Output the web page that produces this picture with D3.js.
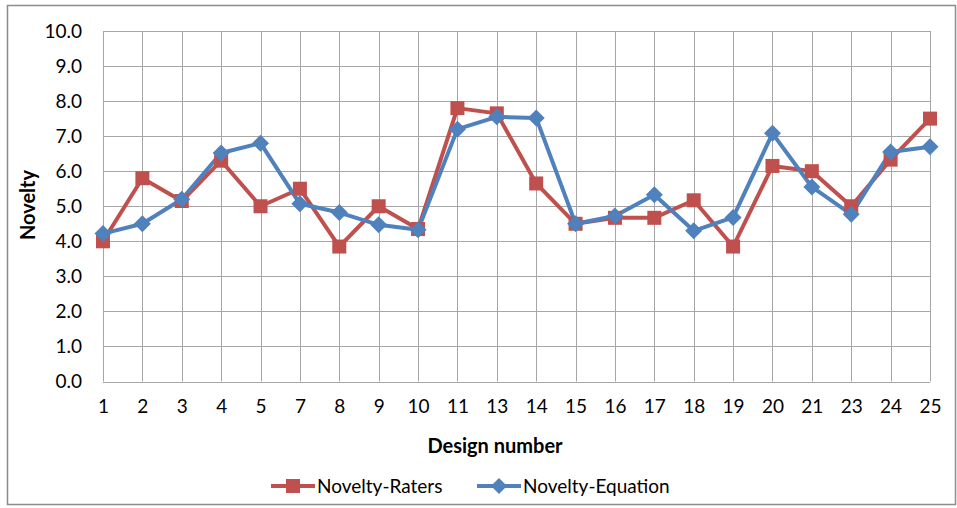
<!DOCTYPE html>
<html>
<head>
<meta charset="utf-8">
<script src="https://cdn.jsdelivr.net/npm/d3@7"></script>
<style>
  body { margin: 0; background: #fff; }
  svg { display: block; font-family: Lato, "Open Sans", sans-serif; }
</style>
</head>
<body>
<svg id="chart" width="957" height="508"></svg>
<script>
// Design numbers along the category axis
const designs = ["1","2","3","4","5","7","8","9","10","11","13","14","15","16","17","18","19","20","21","23","24","25"];
// Novelty scores given by the raters
const noveltyRaters = [4.0,5.8,5.15,6.3,5.0,5.5,3.85,5.0,4.35,7.8,7.65,5.65,4.5,4.67,4.67,5.17,3.85,6.15,6.0,5.0,6.33,7.5];
// Novelty scores computed from the equation
const noveltyEquation = [4.22,4.5,5.2,6.52,6.8,5.07,4.82,4.47,4.33,7.2,7.55,7.52,4.5,4.72,5.33,4.3,4.68,7.08,5.55,4.77,6.55,6.7];
const yTicks = [0,1,2,3,4,5,6,7,8,9,10];
const seriesNames = ["Novelty-Raters", "Novelty-Equation"];

const red = "#C0504D", blue = "#4F81BD", grid = "#A6A6A6";
const fontSize = 19;
const svg = d3.select("#chart");

// chart area border
svg.append("rect").attr("x", 7.5).attr("y", 5.5).attr("width", 948).attr("height", 499)
  .attr("fill", "#fff").attr("stroke", "#8c8c8c").attr("stroke-width", 1.5);

const plotLeft = 103, plotRight = 930, plotTop = 31, plotBottom = 381.5;
const x = d3.scalePoint().domain(designs).range([plotLeft, plotRight]);
const y = d3.scaleLinear().domain([0, 10]).range([plotBottom, plotTop]);

// horizontal gridlines
svg.append("g").selectAll("line").data(yTicks).join("line")
  .attr("x1", plotLeft).attr("x2", plotRight)
  .attr("y1", d => Math.round(y(d)) + 0.5).attr("y2", d => Math.round(y(d)) + 0.5)
  .attr("stroke", grid).attr("stroke-width", 1);
// vertical gridlines
svg.append("g").selectAll("line").data(designs).join("line")
  .attr("x1", d => Math.round(x(d)) + 0.5).attr("x2", d => Math.round(x(d)) + 0.5)
  .attr("y1", plotTop).attr("y2", plotBottom)
  .attr("stroke", grid).attr("stroke-width", 1);

// y axis labels
const yAxis = d3.axisLeft(y).tickValues(yTicks).tickFormat(d3.format(".1f")).tickSize(0).tickPadding(21);
const gy = svg.append("g").attr("transform", `translate(${plotLeft},0)`).call(yAxis);
gy.select(".domain").remove();
gy.selectAll("text").attr("font-size", fontSize).attr("fill", "#000").attr("font-family", "Lato, sans-serif");

// x axis labels
const xAxis = d3.axisBottom(x).tickSize(0).tickPadding(18);
const gx = svg.append("g").attr("transform", `translate(0,${plotBottom})`).call(xAxis);
gx.select(".domain").remove();
gx.selectAll("text").attr("font-size", fontSize).attr("fill", "#000").attr("font-family", "Lato, sans-serif");

// axis titles
svg.append("text").attr("x", 495).attr("y", 453).attr("text-anchor", "middle")
  .attr("font-size", 20).attr("font-weight", "bold").text("Design number");
svg.append("text").attr("transform", "translate(35,205) rotate(-90)").attr("text-anchor", "middle")
  .attr("font-size", 20).attr("font-weight", "bold").text("Novelty");

const line = d3.line().x((d, i) => x(designs[i])).y(d => y(d));

// Novelty-Raters series
svg.append("path").datum(noveltyRaters).attr("d", line)
  .attr("fill", "none").attr("stroke", red).attr("stroke-width", 4).attr("stroke-linejoin", "round");
// Novelty-Equation series
svg.append("path").datum(noveltyEquation).attr("d", line)
  .attr("fill", "none").attr("stroke", blue).attr("stroke-width", 4).attr("stroke-linejoin", "round");

const sq = 14;
svg.append("g").selectAll("rect").data(noveltyRaters).join("rect")
  .attr("x", (d, i) => x(designs[i]) - sq / 2).attr("y", d => y(d) - sq / 2)
  .attr("width", sq).attr("height", sq).attr("fill", red);

const diamond = (cx, cy, r) => `M${cx},${cy - r}L${cx + r},${cy}L${cx},${cy + r}L${cx - r},${cy}Z`;
svg.append("g").selectAll("path").data(noveltyEquation).join("path")
  .attr("d", (d, i) => diamond(x(designs[i]), y(d), 8.5)).attr("fill", blue);

// legend
const lg = svg.append("g");
lg.append("line").attr("x1", 271).attr("x2", 315).attr("y1", 486).attr("y2", 486).attr("stroke", red).attr("stroke-width", 4);
lg.append("rect").attr("x", 286).attr("y", 479).attr("width", 14).attr("height", 14).attr("fill", red);
lg.append("text").attr("x", 317).attr("y", 493).attr("font-size", fontSize).text(seriesNames[0]);
lg.append("line").attr("x1", 477).attr("x2", 521).attr("y1", 486).attr("y2", 486).attr("stroke", blue).attr("stroke-width", 4);
lg.append("path").attr("d", diamond(499, 486, 8)).attr("fill", blue);
lg.append("text").attr("x", 523).attr("y", 493).attr("font-size", fontSize).text(seriesNames[1]);
</script>
</body>
</html>
